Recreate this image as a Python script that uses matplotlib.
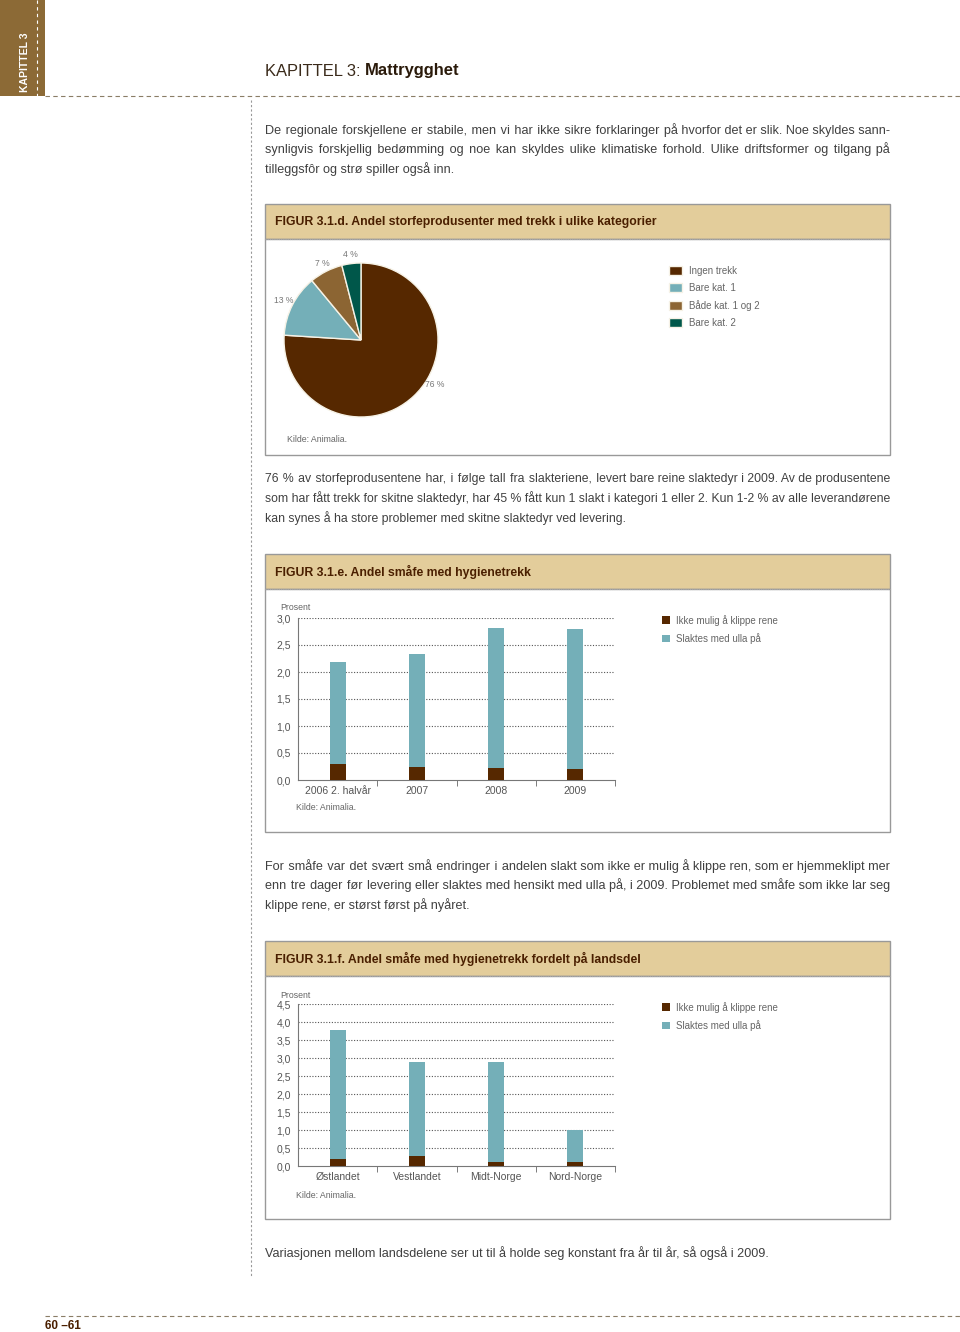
import matplotlib
matplotlib.use('Agg')
import matplotlib.pyplot as plt
from matplotlib.patches import Rectangle

plt.rcParams['font.family'] = ['Liberation Sans', 'DejaVu Sans']

# data
pie_labels = ['Ingen trekk', 'Bare kat. 1', 'Både kat. 1 og 2', 'Bare kat. 2']
pie_values = [76, 13, 7, 4]
pie_colors = ['#562800', '#74afb8', '#8c6533', '#00574a']

years = ['2006 2. halvår', '2007', '2008', '2009']
year_ikke = [0.30, 0.24, 0.23, 0.20]
year_ulla = [1.88, 2.10, 2.59, 2.59]

regions = ['Østlandet', 'Vestlandet', 'Midt-Norge', 'Nord-Norge']
reg_ikke = [0.19, 0.29, 0.10, 0.10]
reg_ulla = [3.59, 2.59, 2.78, 0.89]

bar_series = ['Ikke mulig å klippe rene', 'Slaktes med ulla på']
bar_colors = ['#562800', '#74afb8']

para1 = ["De regionale forskjellene er stabile, men vi har ikke sikre forklaringer på hvorfor det er slik. Noe skyldes sann-",
         "synligvis forskjellig bedømming og noe kan skyldes ulike klimatiske forhold. Ulike driftsformer og tilgang på",
         "tilleggsfôr og strø spiller også inn."]
para2 = ["76 % av storfeprodusentene har, i følge tall fra slakteriene, levert bare reine slaktedyr i 2009. Av de produsentene",
         "som har fått trekk for skitne slaktedyr, har 45 % fått kun 1 slakt i kategori 1 eller 2. Kun 1-2 % av alle leverandørene",
         "kan synes å ha store problemer med skitne slaktedyr ved levering."]
para3 = ["For småfe var det svært små endringer i andelen slakt som ikke er mulig å klippe ren, som er hjemmeklipt mer",
         "enn tre dager før levering eller slaktes med hensikt med ulla på, i 2009. Problemet med småfe som ikke lar seg",
         "klippe rene, er størst først på nyåret."]
para4 = ["Variasjonen mellom landsdelene ser ut til å holde seg konstant fra år til år, så også i 2009."]

W, H = 960, 1332
fig = plt.figure(figsize=(9.6, 13.32), dpi=100)
bg = fig.add_axes([0, 0, 1, 1])
bg.set_xlim(0, W)
bg.set_ylim(H, 0)
bg.axis('off')
renderer = fig.canvas.get_renderer()

txt = '#404040'
brown_txt = '#4a1f00'

# side tab
bg.add_patch(Rectangle((0, 0), 45, 96, color='#8c6a36', lw=0))
bg.plot([37, 37], [0, 96], color='white', lw=0.8, ls=(0, (3, 3)))
bg.text(25, 62, 'KAPITTEL 3', rotation=90, color='white', fontsize=7.5,
        fontweight='bold', ha='center', va='center')
bg.plot([45, 960], [96, 96], color='#8a7d66', lw=0.8, ls=(0, (4, 3)))
bg.plot([251, 251], [100, 1277], color='#999999', lw=0.8, ls=(0, (2, 2)))
bg.plot([45, 960], [1316, 1316], color='#8a7d66', lw=0.8, ls=(0, (4, 3)))
bg.text(45, 1326, '60 –61', color=brown_txt, fontsize=8.5, fontweight='bold', va='center')

# title
t1 = bg.text(265, 71, 'KAPITTEL 3: ', color='#3a2a1a', fontsize=11.9, va='center')
bg.annotate('Mattrygghet', xy=(1, 0.5), xycoords=t1, va='center', ha='left',
            fontsize=11.9, fontweight='bold', color='#2a1a0a')

HAIR = '\u200a'

def width_of(s, fs):
    t = bg.text(0, 0, s, fontsize=fs)
    w = t.get_window_extent(renderer).width
    t.remove()
    return w

def para(lines, y0, x0=265, width=625, fs=9.1):
    # shrink the paragraph a little if its widest line would overflow
    widest = max(width_of(s, fs) for s in lines)
    if widest > width:
        fs = fs * width / widest
    hair_w = (width_of('a' + HAIR * 10 + 'a', fs) - width_of('aa', fs)) / 10
    for i, s in enumerate(lines):
        y = y0 + i * 19.5
        if i < len(lines) - 1 and hair_w > 0.3:
            # justify by padding the gaps with hair spaces
            words = s.split(' ')
            extra = int(round((width - width_of(s, fs)) / hair_w))
            if extra > 0:
                gaps = len(words) - 1
                out = words[0]
                for k, w in enumerate(words[1:]):
                    n = extra // gaps + (1 if k < extra % gaps else 0)
                    out += ' ' + HAIR * n + w
                s = out
        bg.text(x0, y, s, color=txt, fontsize=fs, va='center')

para(para1, 130)
para(para2, 479)
para(para3, 866)
para(para4, 1253)

def box(top, mid, bottom, title):
    bg.add_patch(Rectangle((265, top), 625, mid - top, facecolor='#e3cd9b', edgecolor='#999999', lw=1))
    bg.add_patch(Rectangle((265, mid), 625, bottom - mid, facecolor='white', edgecolor='#999999', lw=1))
    bg.plot([265, 890], [mid, mid], color='#aaaaaa', lw=0.8, ls=(0, (1, 1)))
    bg.text(275, (top + mid) / 2, title, color=brown_txt, fontsize=8.8,
            fontweight='bold', va='center')

box(204, 239, 455, 'FIGUR 3.1.d. Andel storfeprodusenter med trekk i ulike kategorier')
box(554, 589, 832, 'FIGUR 3.1.e. Andel småfe med hygienetrekk')
box(941, 976, 1219, 'FIGUR 3.1.f. Andel småfe med hygienetrekk fordelt på landsdel')

def fax(x0, y0, x1, y1):
    return fig.add_axes([x0 / W, 1 - y1 / H, (x1 - x0) / W, (y1 - y0) / H])

# pie
cx, cy, r = 361, 340, 77
pax = fax(cx - r, cy - r, cx + r, cy + r)
wedges, texts = pax.pie(pie_values, colors=pie_colors, startangle=90, counterclock=False,
                        labels=[f'{v} %' for v in pie_values], labeldistance=1.12,
                        wedgeprops=dict(edgecolor='#f6f2e6', linewidth=1),
                        textprops=dict(fontsize=6.2, color='#777777'))
for t in texts:
    t.set_ha('center')
    t.set_va('center')
texts[0].set_position((0.855 * 1.12, -0.52 * 1.12))
pax.set_xlim(-1, 1)
pax.set_ylim(-1, 1)
pax.legend(wedges, pie_labels, loc='upper left', bbox_to_anchor=(660 / W, 1 - 257 / H),
           bbox_transform=fig.transFigure, frameon=False, fontsize=7,
           handlelength=1.35, handleheight=1.1, labelspacing=0.72, handletextpad=0.75,
           labelcolor='#666666')
bg.text(287, 440, 'Kilde: Animalia.', fontsize=6.3, color='#666666', va='center')

def bars(y0, y1, cats, ikke, ulla, ymax, ticks, kilde_y, prosent_y, leg_y):
    ax = fax(298, y0, 615, y1)
    x = list(range(len(cats)))
    ax.bar(x, ikke, width=0.2, color=bar_colors[0], zorder=3, label=bar_series[0])
    ax.bar(x, ulla, width=0.2, bottom=ikke, color=bar_colors[1], zorder=3, label=bar_series[1])
    ax.set_xlim(-0.5, len(cats) - 0.5)
    ax.set_ylim(0, ymax)
    ax.set_yticks(ticks)
    ax.set_yticklabels([f'{t:.1f}'.replace('.', ',') for t in ticks])
    ax.set_xticks(x)
    ax.set_xticklabels(cats)
    ax.set_xticks([i + 0.5 for i in x], minor=True)
    ax.tick_params(axis='x', which='major', length=0, pad=4, labelsize=7.5, labelcolor='#555555')
    ax.tick_params(axis='x', which='minor', length=4, direction='out', color='#666666')
    ax.tick_params(axis='y', length=0, pad=5, labelsize=7.5, labelcolor='#555555')
    for t in ticks[1:]:
        ax.axhline(t, color='#555555', lw=0.8, ls=(0, (1, 1.5)), zorder=1)
    for s in ['top', 'right']:
        ax.spines[s].set_visible(False)
    for s in ['left', 'bottom']:
        ax.spines[s].set_color('#777777')
        ax.spines[s].set_linewidth(0.8)
    ax.legend(loc='upper left', bbox_to_anchor=(653 / W, 1 - leg_y / H),
              bbox_transform=fig.transFigure, frameon=False, fontsize=7,
              handlelength=0.85, handleheight=0.85, labelspacing=0.75, handletextpad=0.6,
              labelcolor='#666666')
    bg.text(280, prosent_y, 'Prosent', fontsize=6.3, color='#666666', va='center')
    bg.text(296, kilde_y, 'Kilde: Animalia.', fontsize=6.3, color='#666666', va='center')
    return ax

bars(618, 780, years, year_ikke, year_ulla, 3.0, [0, 0.5, 1.0, 1.5, 2.0, 2.5, 3.0], 808, 607, 606)
bars(1004, 1166, regions, reg_ikke, reg_ulla, 4.5,
     [0, 0.5, 1.0, 1.5, 2.0, 2.5, 3.0, 3.5, 4.0, 4.5], 1196, 995, 993)

fig.savefig('out.png', dpi=100)
